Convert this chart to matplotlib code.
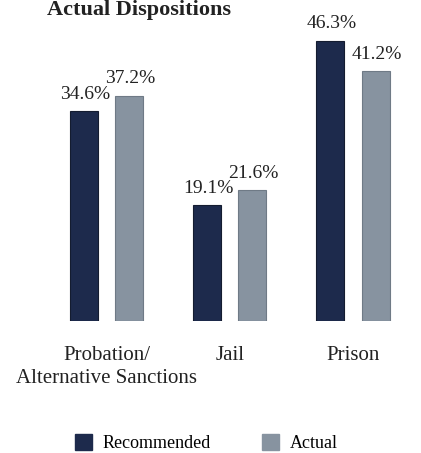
import numpy as np
import matplotlib.pyplot as plt
from matplotlib.patches import Patch
from matplotlib.font_manager import FontProperties

categories = ["Probation/\nAlternative Sanctions", "Jail", "Prison"]
recommended = [34.6, 19.1, 46.3]
actual = [37.2, 21.6, 41.2]
series_names = ["Recommended", "Actual"]

navy = "#1d2a4c"
slate = "#8793a0"

fig = plt.figure(figsize=(4.21, 4.53), dpi=100)
ax = fig.add_axes([0, 0.2914, 1, 0.7086])

x = np.arange(len(categories))
width = 0.227
offset = 0.183

bars_rec = ax.bar(x - offset, recommended, width, color=navy, edgecolor="#141c30", linewidth=0.8)
bars_act = ax.bar(x + offset, actual, width, color=slate, edgecolor="#6f7a86", linewidth=0.8)

ax.set_xlim(-0.864, 2.552)
ax.set_ylim(0, 53.0)
ax.axis("off")

for bars, vals in [(bars_rec, recommended), (bars_act, actual)]:
    for b, v in zip(bars, vals):
        ax.annotate(f"{v}%", (b.get_x() + b.get_width() / 2, v),
                    xytext=(1, 6), textcoords="offset points",
                    ha="center", va="bottom", fontsize=14,
                    family="Liberation Serif", color="#222222")

# category names under the groups
for xi, name in zip(x, categories):
    ax.annotate(name, (xi, 0), xytext=(0, -18), textcoords="offset points",
                ha="center", va="top", fontsize=15, family="Liberation Serif",
                color="#222222", linespacing=1.3)

fig.text(0.112, 1 - 15 / 453, "Actual Dispositions", fontsize=16, fontweight="bold",
         family="Liberation Serif", color="#222222", va="baseline")

legend_font = FontProperties(family="Liberation Serif", size=13)
handles = [Patch(facecolor=navy, edgecolor=navy), Patch(facecolor=slate, edgecolor=slate)]
fig.legend(handles, series_names, loc="center", bbox_to_anchor=(0.49, 1 - 443 / 453),
           ncol=2, frameon=False, prop=legend_font,
           handlelength=0.95, handleheight=1.0, columnspacing=2.8, handletextpad=0.6)

fig.savefig("out.png", dpi=100)
